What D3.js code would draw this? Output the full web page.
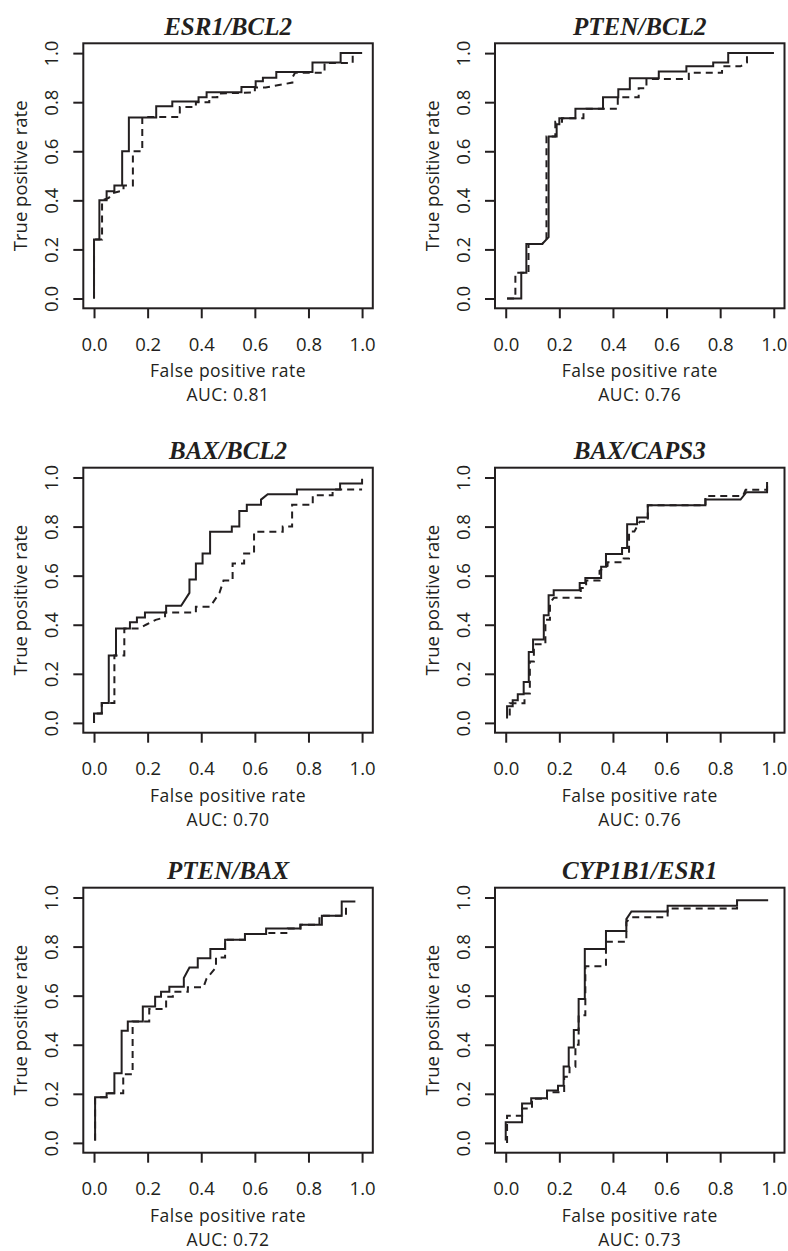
<!DOCTYPE html>
<html>
<head>
<meta charset="utf-8">
<script src="https://cdn.jsdelivr.net/npm/d3@7"></script>
<style>
  html, body { margin: 0; padding: 0; background: #fff; }
  svg { display: block; }
</style>
</head>
<body>
<script>
// ---------- data ----------
const titles = ["ESR1/BCL2", "PTEN/BCL2", "BAX/BCL2", "BAX/CAPS3", "PTEN/BAX", "CYP1B1/ESR1"];
const aucLabels = ["AUC: 0.81", "AUC: 0.76", "AUC: 0.70", "AUC: 0.76", "AUC: 0.72", "AUC: 0.73"];
const tickValues = [0, 0.2, 0.4, 0.6, 0.8, 1.0];
const tickLabels = ["0.0", "0.2", "0.4", "0.6", "0.8", "1.0"];
const xAxisLabel = "False positive rate";
const yAxisLabel = "True positive rate";

// each series: [false positive rate, true positive rate] vertices
const esr1Bcl2Solid = [[0,0],[0,0.24],[0.02,0.24],[0.02,0.40],[0.047,0.40],[0.047,0.437],[0.076,0.437],[0.076,0.46],[0.105,0.46],[0.105,0.60],[0.13,0.60],[0.13,0.738],[0.232,0.738],[0.232,0.783],[0.292,0.783],[0.292,0.803],[0.39,0.803],[0.39,0.82],[0.42,0.82],[0.42,0.84],[0.55,0.84],[0.55,0.862],[0.603,0.862],[0.603,0.885],[0.63,0.885],[0.63,0.90],[0.68,0.90],[0.68,0.923],[0.815,0.923],[0.815,0.962],[0.92,0.962],[0.92,1.0],[1.0,1.0]];
const esr1Bcl2Dashed = [[0,0],[0,0.24],[0.03,0.24],[0.03,0.40],[0.055,0.41],[0.07,0.43],[0.11,0.44],[0.11,0.46],[0.145,0.46],[0.145,0.60],[0.18,0.60],[0.18,0.74],[0.32,0.74],[0.32,0.78],[0.38,0.78],[0.38,0.80],[0.43,0.80],[0.43,0.82],[0.46,0.82],[0.46,0.835],[0.60,0.84],[0.60,0.86],[0.64,0.86],[0.74,0.88],[0.74,0.90],[0.75,0.92],[0.86,0.92],[0.86,0.96],[0.965,0.96],[0.965,1.0],[1.0,1.0]];

const ptenBcl2Solid = [[0.005,0],[0.058,0],[0.058,0.105],[0.077,0.105],[0.077,0.222],[0.136,0.222],[0.16,0.25],[0.16,0.66],[0.19,0.66],[0.19,0.71],[0.20,0.71],[0.20,0.735],[0.26,0.735],[0.26,0.773],[0.363,0.773],[0.363,0.82],[0.42,0.82],[0.42,0.853],[0.463,0.853],[0.463,0.898],[0.571,0.898],[0.571,0.925],[0.674,0.925],[0.674,0.946],[0.774,0.946],[0.774,0.962],[0.83,0.962],[0.83,1.0],[1.0,1.0]];
const ptenBcl2Dashed = [[0.005,0],[0.036,0],[0.036,0.105],[0.085,0.105],[0.085,0.222],[0.136,0.222],[0.152,0.24],[0.152,0.66],[0.185,0.66],[0.185,0.72],[0.21,0.72],[0.21,0.735],[0.29,0.735],[0.29,0.756],[0.30,0.773],[0.418,0.773],[0.418,0.82],[0.496,0.82],[0.496,0.857],[0.525,0.857],[0.525,0.895],[0.683,0.895],[0.683,0.92],[0.807,0.92],[0.807,0.946],[0.876,0.946],[0.9,0.962],[0.9,1.0],[1.0,1.0]];

const baxBcl2Solid = [[0,0],[0,0.038],[0.029,0.038],[0.029,0.081],[0.055,0.081],[0.055,0.275],[0.082,0.275],[0.082,0.385],[0.134,0.385],[0.134,0.41],[0.16,0.41],[0.16,0.43],[0.19,0.43],[0.19,0.45],[0.269,0.45],[0.269,0.477],[0.325,0.477],[0.356,0.53],[0.356,0.584],[0.38,0.584],[0.38,0.65],[0.405,0.65],[0.405,0.69],[0.433,0.69],[0.433,0.779],[0.514,0.779],[0.514,0.80],[0.542,0.80],[0.542,0.864],[0.57,0.864],[0.57,0.889],[0.623,0.889],[0.623,0.91],[0.648,0.932],[0.757,0.932],[0.757,0.951],[0.918,0.951],[0.918,0.976],[1.0,0.976],[1.0,0.995]];
const baxBcl2Dashed = [[0,0],[0,0.038],[0.029,0.038],[0.029,0.081],[0.076,0.081],[0.076,0.275],[0.113,0.275],[0.113,0.385],[0.17,0.385],[0.194,0.40],[0.23,0.42],[0.265,0.43],[0.265,0.45],[0.38,0.45],[0.38,0.473],[0.433,0.473],[0.468,0.53],[0.483,0.58],[0.517,0.58],[0.517,0.65],[0.56,0.65],[0.56,0.69],[0.597,0.69],[0.597,0.779],[0.704,0.779],[0.704,0.80],[0.739,0.80],[0.739,0.889],[0.816,0.889],[0.816,0.928],[0.89,0.928],[0.89,0.951],[1.0,0.951]];

const baxCaps3Solid = [[0.005,0.018],[0.005,0.068],[0.026,0.068],[0.026,0.092],[0.045,0.092],[0.045,0.117],[0.067,0.117],[0.067,0.167],[0.086,0.167],[0.086,0.289],[0.102,0.289],[0.102,0.34],[0.142,0.34],[0.142,0.439],[0.16,0.439],[0.16,0.52],[0.179,0.52],[0.179,0.541],[0.276,0.541],[0.276,0.57],[0.297,0.57],[0.297,0.59],[0.356,0.59],[0.356,0.636],[0.374,0.636],[0.374,0.688],[0.434,0.688],[0.434,0.713],[0.453,0.713],[0.453,0.81],[0.49,0.81],[0.49,0.837],[0.53,0.837],[0.53,0.887],[0.745,0.887],[0.745,0.91],[0.876,0.91],[0.898,0.94],[0.975,0.94],[0.975,0.982]];
const baxCaps3Dashed = [[0.015,0.03],[0.015,0.08],[0.07,0.08],[0.07,0.12],[0.09,0.12],[0.09,0.25],[0.105,0.25],[0.105,0.32],[0.148,0.32],[0.148,0.42],[0.165,0.42],[0.165,0.49],[0.18,0.51],[0.28,0.51],[0.28,0.55],[0.30,0.55],[0.30,0.58],[0.35,0.58],[0.35,0.62],[0.38,0.64],[0.38,0.655],[0.44,0.655],[0.44,0.67],[0.46,0.67],[0.46,0.78],[0.48,0.78],[0.49,0.80],[0.50,0.82],[0.53,0.82],[0.53,0.887],[0.745,0.887],[0.745,0.925],[0.885,0.925],[0.895,0.95],[0.975,0.95],[0.975,0.97]];

const ptenBaxSolid = [[0.004,0.01],[0.004,0.186],[0.047,0.186],[0.047,0.202],[0.076,0.202],[0.076,0.284],[0.103,0.284],[0.103,0.457],[0.126,0.457],[0.126,0.495],[0.182,0.495],[0.182,0.556],[0.228,0.556],[0.228,0.596],[0.25,0.596],[0.25,0.616],[0.281,0.616],[0.281,0.636],[0.335,0.636],[0.335,0.672],[0.356,0.715],[0.387,0.715],[0.387,0.752],[0.434,0.752],[0.434,0.79],[0.489,0.79],[0.489,0.828],[0.563,0.828],[0.563,0.851],[0.642,0.851],[0.642,0.874],[0.77,0.874],[0.77,0.889],[0.85,0.889],[0.85,0.926],[0.924,0.926],[0.924,0.984],[0.975,0.984]];
const ptenBaxDashed = [[0.004,0.01],[0.004,0.186],[0.047,0.186],[0.047,0.202],[0.109,0.202],[0.109,0.28],[0.144,0.28],[0.144,0.495],[0.206,0.495],[0.206,0.546],[0.269,0.546],[0.269,0.596],[0.294,0.596],[0.294,0.616],[0.35,0.616],[0.35,0.634],[0.408,0.634],[0.42,0.67],[0.455,0.715],[0.455,0.756],[0.489,0.756],[0.489,0.828],[0.563,0.828],[0.563,0.851],[0.642,0.851],[0.642,0.855],[0.723,0.855],[0.723,0.874],[0.77,0.874],[0.77,0.889],[0.841,0.889],[0.841,0.926],[0.94,0.926],[0.94,0.96]];

const cyp1b1Esr1Solid = [[0,0.01],[0,0.084],[0.061,0.084],[0.061,0.161],[0.095,0.161],[0.095,0.182],[0.154,0.182],[0.154,0.213],[0.195,0.213],[0.195,0.233],[0.216,0.233],[0.216,0.311],[0.235,0.311],[0.235,0.389],[0.254,0.389],[0.254,0.46],[0.272,0.46],[0.272,0.586],[0.295,0.586],[0.295,0.79],[0.374,0.79],[0.374,0.864],[0.45,0.864],[0.45,0.912],[0.469,0.943],[0.604,0.943],[0.604,0.966],[0.863,0.966],[0.863,0.989],[0.979,0.989]];
const cyp1b1Esr1Dashed = [[0.005,0],[0.005,0.111],[0.061,0.111],[0.061,0.14],[0.098,0.14],[0.098,0.18],[0.154,0.18],[0.154,0.206],[0.218,0.206],[0.218,0.27],[0.238,0.27],[0.238,0.31],[0.26,0.31],[0.26,0.40],[0.272,0.40],[0.272,0.52],[0.297,0.52],[0.297,0.72],[0.374,0.72],[0.374,0.82],[0.45,0.82],[0.45,0.90],[0.469,0.92],[0.604,0.92],[0.604,0.955],[0.863,0.955],[0.863,0.989]];

const solidSeries = [esr1Bcl2Solid, ptenBcl2Solid, baxBcl2Solid, baxCaps3Solid, ptenBaxSolid, cyp1b1Esr1Solid];
const dashedSeries = [esr1Bcl2Dashed, ptenBcl2Dashed, baxBcl2Dashed, baxCaps3Dashed, ptenBaxDashed, cyp1b1Esr1Dashed];

// ---------- layout ----------
const W = 788, H = 1251;
const colLeft = [83.3, 495];
const rowTop = [43.3, 467.7, 887.7];
const boxW = 289.5, boxH = 265;
const ink = "#231f20";
const sansFont = "'Open Sans', 'Noto Sans', sans-serif";
const fontSize = 18.5;
const labelSize = 17.5;

const svg = d3.select("body").append("svg")
  .attr("width", W).attr("height", H)
  .attr("viewBox", `0 0 ${W} ${H}`);
svg.append("rect").attr("width", W).attr("height", H).attr("fill", "#fff");

const line = d3.line().curve(d3.curveLinear);

titles.forEach((title, i) => {
  const left = colLeft[i % 2];
  const top = rowTop[Math.floor(i / 2)];
  const right = left + boxW, bottom = top + boxH;
  const cx = (left + right) / 2, cy = (top + bottom) / 2;

  const x = d3.scaleLinear().domain([-0.04, 1.04]).range([left, right]);
  const y = d3.scaleLinear().domain([-0.04, 1.04]).range([bottom, top]);

  const g = svg.append("g");

  // curves
  line.x(d => x(d[0])).y(d => y(d[1]));
  g.append("path").datum(dashedSeries[i])
    .attr("d", line).attr("fill", "none").attr("stroke", ink)
    .attr("stroke-width", 2).attr("stroke-dasharray", "7,5")
    .attr("stroke-linejoin", "miter");
  g.append("path").datum(solidSeries[i])
    .attr("d", line).attr("fill", "none").attr("stroke", ink)
    .attr("stroke-width", 2).attr("stroke-linejoin", "miter");

  // box
  g.append("rect").attr("x", left).attr("y", top)
    .attr("width", boxW).attr("height", boxH)
    .attr("fill", "none").attr("stroke", ink).attr("stroke-width", 2);

  // x axis
  const xAxis = d3.axisBottom(x).tickValues(tickValues)
    .tickFormat((d, k) => tickLabels[k]).tickSizeOuter(0).tickSizeInner(10).tickPadding(0);
  const gx = g.append("g").attr("transform", `translate(0,${bottom})`).call(xAxis);
  gx.select(".domain").remove();
  gx.selectAll(".tick line").attr("stroke", ink).attr("stroke-width", 2);
  gx.selectAll(".tick text")
    .attr("y", 42.4).attr("dy", null)
    .attr("fill", ink).style("font-family", sansFont).style("font-size", fontSize + "px");

  // y axis
  const yAxis = d3.axisLeft(y).tickValues(tickValues)
    .tickFormat((d, k) => tickLabels[k]).tickSizeOuter(0).tickSizeInner(10).tickPadding(0);
  const gy = g.append("g").attr("transform", `translate(${left},0)`).call(yAxis);
  gy.select(".domain").remove();
  gy.selectAll(".tick line").attr("stroke", ink).attr("stroke-width", 2);
  gy.selectAll(".tick text")
    .attr("x", null).attr("dy", null)
    .attr("transform", "translate(-25,0) rotate(-90)")
    .attr("text-anchor", "middle")
    .attr("fill", ink).style("font-family", sansFont).style("font-size", fontSize + "px");

  // titles and labels
  g.append("text").attr("x", cx).attr("y", top - 8.5)
    .attr("text-anchor", "middle").attr("fill", ink)
    .style("font-family", "'Liberation Serif', 'Times New Roman', serif")
    .style("font-weight", "bold").style("font-style", "italic")
    .style("font-size", "25px").text(title);

  g.append("text").attr("x", cx).attr("y", bottom + 69)
    .attr("text-anchor", "middle").attr("fill", ink)
    .style("font-family", sansFont).style("font-size", labelSize + "px")
    .style("letter-spacing", "0.5px").text(xAxisLabel);

  g.append("text").attr("x", cx).attr("y", bottom + 93)
    .attr("text-anchor", "middle").attr("fill", ink)
    .style("font-family", sansFont).style("font-size", labelSize + "px")
    .style("letter-spacing", "0.5px").text(aucLabels[i]);

  g.append("text")
    .attr("transform", `translate(${left - 56},${cy}) rotate(-90)`)
    .attr("text-anchor", "middle").attr("fill", ink)
    .style("font-family", sansFont).style("font-size", fontSize + "px").text(yAxisLabel);
});
</script>
</body>
</html>
